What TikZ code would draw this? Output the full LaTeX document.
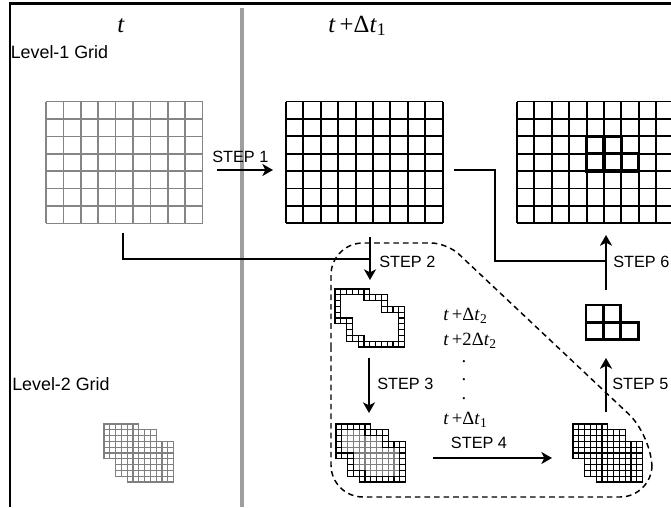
\documentclass[tikz,border=0pt]{standalone}
\usepackage{fontspec}
\setmainfont{Liberation Serif}
\setsansfont{Liberation Sans}
\usetikzlibrary{arrows.meta}
\newcommand{\mysub}[1]{\raisebox{-0.35ex}{\scalebox{0.72}{#1}}}
\newcommand{\drawcells}[3]{%
  \begin{scope}[shift={#2}]
    \foreach \j/\lo/\hi in #3 {%
      \foreach \i in {\lo,...,\hi} {%
        \draw[#1] (\i*5.8,\j*5.8) rectangle ++(5.8,5.8);
      }%
    }%
  \end{scope}}
\def\unionlist{0/0/5,1/0/8,2/0/8,3/0/11,4/0/11,5/0/11,6/2/11,7/2/11,8/2/11,9/4/11}
\def\ringlist{0/0/5,1/0/0,1/5/8,2/0/0,2/8/8,3/0/0,3/8/11,4/0/0,4/11/11,5/0/2,5/11/11,6/2/2,6/11/11,7/2/2,7/11/11,8/2/4,8/11/11,9/4/11}
\begin{document}
\begin{tikzpicture}[x=0.75pt,y=-0.75pt,
  conn/.style={line width=1.7pt},
  arr/.style={conn,-{Stealth[length=8pt,width=9pt,inset=2.2pt]}},
  steplbl/.style={font=\sffamily\fontsize{12.2}{14}\selectfont,inner sep=0pt},
  lvl/.style={font=\sffamily\fontsize{13.4}{15}\selectfont,inner sep=0pt,anchor=west},
  tlbl/.style={font=\fontsize{14}{16}\selectfont,inner sep=0pt,anchor=base west},
  toplbl/.style={font=\fontsize{18.5}{21}\selectfont,inner sep=0pt,anchor=base},
  biggray/.style={line width=1.2pt,black!48},
  bigblack/.style={line width=1.45pt,black},
  finegray/.style={line width=0.8pt,black!50},
  fineblack/.style={line width=0.95pt,black},
  thickcell/.style={line width=2.5pt,black},
  region/.style={line width=1.1pt,dash pattern=on 4.2pt off 3pt}]
\useasboundingbox (0,0) rectangle (671,507);
\clip (0,0) rectangle (671,507);
\fill[white] (0,0) rectangle (671,507);
% frame and separator
\draw[line width=1.6pt] (10,507) -- (10,3.5) -- (671,3.5);
\draw[line width=3.6pt,black!38] (242,8) -- (242,507);
% headings
\node[toplbl] (tA) at (121,32) {\textit{t}};
\node[toplbl] (tB) at (357,32) {\textit{t}\,+Δ\textit{t}\mysub{1}};
\node[lvl] (lv1) at (10.5,52) {Level-1 Grid};
\node[lvl] (lv2) at (12,384) {Level-2 Grid};
% level-1 grids
\foreach \k in {0,...,9} \draw[biggray] (46+\k*17.4,101.5) -- (46+\k*17.4,223.3);
\foreach \k in {0,...,7} \draw[biggray] (46,101.5+\k*17.4) -- (202.6,101.5+\k*17.4);
\foreach \k in {0,...,9} \draw[bigblack] (286+\k*17.4,101.5) -- (286+\k*17.4,223.3);
\foreach \k in {0,...,7} \draw[bigblack] (286,101.5+\k*17.4) -- (442.6,101.5+\k*17.4);
\foreach \k in {0,...,9} \draw[bigblack] (517+\k*17.4,101.5) -- (517+\k*17.4,223.3);
\foreach \k in {0,...,7} \draw[bigblack] (517,101.5+\k*17.4) -- (673.6,101.5+\k*17.4);
% refined cells on right grid
\foreach \c/\r in {4/2,5/2,4/3,5/3,6/3}
  \draw[thickcell] (517+\c*17.4,101.5+\r*17.4) rectangle ++(17.4,17.4);
% small refined pattern
\foreach \c/\r in {0/0,1/0,0/1,1/1,2/1}
  \draw[thickcell,line width=2.2pt] (586+\c*17.4,305+\r*17.4) rectangle ++(17.4,17.4);
% level-2 grids
\drawcells{finegray}{(104,424)}{\unionlist}
\drawcells{fineblack}{(335,289)}{\ringlist}
\drawcells{finegray}{(336,424)}{\unionlist}
\drawcells{fineblack}{(336,424)}{\ringlist}
\drawcells{fineblack}{(573,424)}{\unionlist}
% dashed region
\draw[region] (331,380) [rounded corners=24pt] -- (331,243) [rounded corners=12pt] -- (447,243) [rounded corners=24pt] -- (652,436) -- (652,497) -- (331,497) -- cycle;
% connector points
\coordinate (p1) at (123,233);
\coordinate (p1b) at (123,259);
\coordinate (p1c) at (370,259);
\coordinate (s1a) at (217,170);
\coordinate (s1b) at (273,170);
\coordinate (s2a) at (370,237);
\coordinate (s2b) at (370,280);
\coordinate (s3a) at (369,358);
\coordinate (s3b) at (369,413);
\coordinate (s4a) at (433,458);
\coordinate (s4b) at (552,458);
\coordinate (s5a) at (606,412);
\coordinate (s5b) at (606,358);
\coordinate (s6a) at (606,290);
\coordinate (s6b) at (606,235);
\coordinate (m1) at (454,170);
\coordinate (m2) at (495,170);
\coordinate (m3) at (495,261);
\coordinate (m4) at (606,261);
% connectors
\draw[conn] (p1) -- (p1b) -- (p1c);
\draw[conn] (m1) -- (m2) -- (m3) -- (m4);
\draw[arr] (s1a) -- (s1b);
\draw[arr] (s2a) -- (s2b);
\draw[arr] (s3a) -- (s3b);
\draw[arr] (s4a) -- (s4b);
\draw[arr] (s5a) -- (s5b);
\draw[arr] (s6a) -- (s6b);
% step labels
\node[steplbl,anchor=west] (L1) at (212,157) {STEP 1};
\node[steplbl,anchor=west] (L2) at (379,262) {STEP 2};
\node[steplbl,anchor=west] (L3) at (377,383.5) {STEP 3};
\node[steplbl] (L4) at (479,443) {STEP 4};
\node[steplbl,anchor=west] (L5) at (612,384) {STEP 5};
\node[steplbl,anchor=west] (L6) at (613,262) {STEP 6};
% time labels
\node[tlbl] (T1) at (443,320.5) {\textit{t}\,+Δ\textit{t}\mysub{2}};
\node[tlbl] (T2) at (443,345.5) {\textit{t}\,+2Δ\textit{t}\mysub{2}};
\node[inner sep=0pt,font=\fontsize{14}{16}\selectfont] (dots) at (464,380) {\shortstack{.\\[9.2pt].\\[9.2pt].}};
\node[tlbl] (T3) at (443,424) {\textit{t}\,+Δ\textit{t}\mysub{1}};
\end{tikzpicture}
\end{document}
